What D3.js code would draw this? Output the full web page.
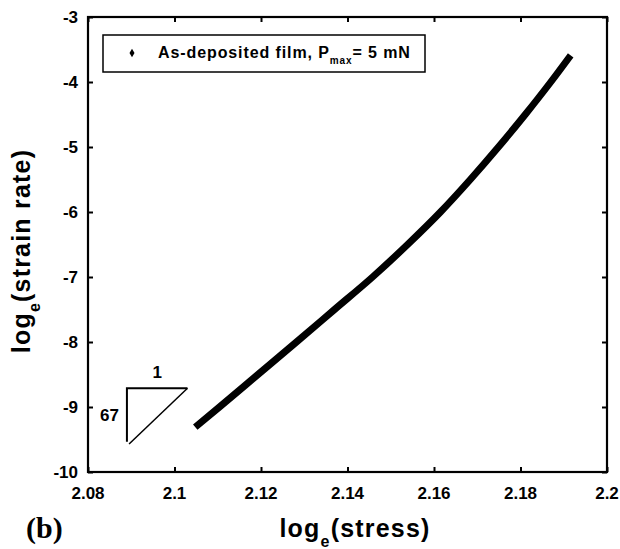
<!DOCTYPE html>
<html>
<head>
<meta charset="utf-8">
<script src="https://cdn.jsdelivr.net/npm/d3@7"></script>
<style>
  html, body { margin: 0; padding: 0; background: #fff; }
  svg { display: block; }
  .tick-label { font-family: "Liberation Sans", Arial, sans-serif; font-weight: bold; font-size: 17px; fill: #000; }
  .title { font-family: "Liberation Sans", Arial, sans-serif; font-weight: bold; font-size: 25px; fill: #000; letter-spacing: 1.2px; }
</style>
</head>
<body>
<svg id="chart" width="620" height="549"></svg>
<script>
// Axis domains and tick values
const xTicks = [2.08, 2.1, 2.12, 2.14, 2.16, 2.18, 2.2];
const yTicks = [-3, -4, -5, -6, -7, -8, -9, -10];
const xTickLabels = ["2.08", "2.1", "2.12", "2.14", "2.16", "2.18", "2.2"];
const yTickLabels = ["-3", "-4", "-5", "-6", "-7", "-8", "-9", "-10"];

// Measured creep data: ln(stress) vs ln(strain rate)
const logStress = [2.1048, 2.1104, 2.1193, 2.1282, 2.1370, 2.1458, 2.1539, 2.1615, 2.1684, 2.1749, 2.1811, 2.1870, 2.1916];
const logStrainRate = [-9.31, -9.00, -8.50, -8.00, -7.50, -7.00, -6.50, -6.00, -5.50, -5.00, -4.50, -4.00, -3.59];

// Slope triangle (stress exponent 67): corners in data units
const triX = [2.0890, 2.1030, 2.0895];
const triY = [-8.712, -8.712, -9.57];
const triBottomY = -9.534;

const legendLabel = "As-deposited film, P";
const legendSub = "max";
const legendTail = "= 5 mN";

const svg = d3.select("#chart");
const mLeft = 88, mRight = 607, mTop = 17, mBottom = 472;

const x = d3.scaleLinear().domain([2.08, 2.2]).range([mLeft, mRight]);
const y = d3.scaleLinear().domain([-10, -3]).range([mBottom, mTop]);

// Inward ticks on all four sides
const tickLen = 5;
const axisG = svg.append("g");
axisG.append("g").attr("transform", `translate(0,${mBottom})`)
  .call(d3.axisTop(x).tickValues(xTicks).tickSize(tickLen).tickFormat(""));
axisG.append("g").attr("transform", `translate(0,${mTop})`)
  .call(d3.axisBottom(x).tickValues(xTicks).tickSize(tickLen).tickFormat(""));
axisG.append("g").attr("transform", `translate(${mLeft},0)`)
  .call(d3.axisRight(y).tickValues(yTicks).tickSize(tickLen).tickFormat(""));
axisG.append("g").attr("transform", `translate(${mRight},0)`)
  .call(d3.axisLeft(y).tickValues(yTicks).tickSize(tickLen).tickFormat(""));
axisG.selectAll(".domain").remove();
axisG.selectAll(".tick line").attr("stroke", "#000").attr("stroke-width", 2);

// Frame
svg.append("rect")
  .attr("x", mLeft).attr("y", mTop)
  .attr("width", mRight - mLeft).attr("height", mBottom - mTop)
  .attr("fill", "none").attr("stroke", "#000").attr("stroke-width", 2.2);

// Tick labels
svg.append("g").selectAll("text").data(xTicks).join("text")
  .attr("class", "tick-label")
  .attr("x", d => x(d)).attr("y", 499)
  .attr("text-anchor", "middle")
  .text((d, i) => xTickLabels[i]);
svg.append("g").selectAll("text").data(yTicks).join("text")
  .attr("class", "tick-label")
  .attr("x", 78).attr("y", d => y(d) + 6)
  .attr("text-anchor", "end")
  .text((d, i) => yTickLabels[i]);

// Axis titles
const xt = svg.append("text").attr("class", "title")
  .attr("x", 355).attr("y", 537).attr("text-anchor", "middle");
xt.append("tspan").text("log");
xt.append("tspan").attr("font-size", 16).attr("dy", 10).text("e");
xt.append("tspan").attr("dy", -10).text("(stress)");

const yt = svg.append("text").attr("class", "title")
  .attr("transform", "translate(30,251) rotate(-90)")
  .attr("text-anchor", "middle");
yt.append("tspan").text("log");
yt.append("tspan").attr("font-size", 16).attr("dy", 10).text("e");
yt.append("tspan").attr("dy", -10).text("(strain rate)");

// Panel label
svg.append("text")
  .attr("x", 26).attr("y", 538)
  .attr("font-family", "'Liberation Serif', 'Times New Roman', serif")
  .attr("font-weight", "bold").attr("font-size", 30)
  .text("(b)");

// Data band
const pts = logStress.map((v, i) => [v, logStrainRate[i]]);
svg.append("path")
  .datum(pts)
  .attr("fill", "none").attr("stroke", "#000")
  .attr("stroke-width", 7)
  .attr("stroke-linecap", "butt")
  .attr("d", d3.line().x(d => x(d[0])).y(d => y(d[1])).curve(d3.curveMonotoneX));

// Slope triangle
svg.append("path")
  .attr("fill", "none").attr("stroke", "#000").attr("stroke-width", 2)
  .attr("d", `M${x(triX[0])},${y(triBottomY)} L${x(triX[0])},${y(triY[0])} L${x(triX[1])},${y(triY[1])}`);
svg.append("line")
  .attr("stroke", "#000").attr("stroke-width", 1.5)
  .attr("x1", x(triX[1])).attr("y1", y(triY[1]))
  .attr("x2", x(triX[2])).attr("y2", y(triY[2]));
svg.append("text").attr("class", "tick-label")
  .attr("x", (x(triX[0]) + x(triX[1])) / 2).attr("y", y(triY[0]) - 10)
  .attr("text-anchor", "middle").text("1");
svg.append("text").attr("class", "tick-label")
  .attr("x", x(triX[0]) - 8).attr("y", (y(triY[0]) + y(triBottomY)) / 2 + 6)
  .attr("text-anchor", "end").text("67");

// Legend
const lg = svg.append("g");
lg.append("rect").attr("x", 103).attr("y", 35).attr("width", 322).attr("height", 37)
  .attr("fill", "#fff").attr("stroke", "#000").attr("stroke-width", 1.5);
lg.append("path")
  .attr("transform", "translate(132,53)")
  .attr("d", d3.symbol().type(d3.symbolDiamond).size(22)())
  .attr("fill", "#000");
const lt = lg.append("text")
  .attr("x", 158).attr("y", 58)
  .attr("font-family", "'Liberation Sans', Arial, sans-serif")
  .attr("font-weight", "bold").attr("font-size", 16)
  .attr("letter-spacing", 0.9);
lt.append("tspan").text(legendLabel);
lt.append("tspan").attr("font-size", 10).attr("dy", 6).text(legendSub);
lt.append("tspan").attr("dy", -6).text(legendTail);
</script>
</body>
</html>
